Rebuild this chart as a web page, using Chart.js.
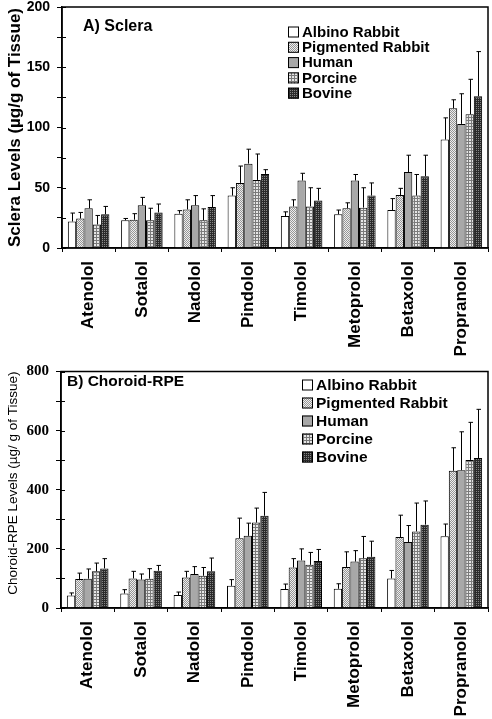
<!DOCTYPE html>
<html>
<head>
<meta charset="utf-8">
<script src="https://cdn.jsdelivr.net/npm/chart.js@4.4.1/dist/chart.umd.min.js"></script>
<style>
html, body { margin: 0; padding: 0; background: #fff; }
#wrap { position: relative; width: 492px; height: 719px; }
canvas { position: absolute; left: 0; }
#chartSclera { top: 0; }
#chartChoroid { top: 365px; }
</style>
</head>
<body>
<div id="wrap">
  <canvas id="chartSclera" width="492" height="365"></canvas>
  <canvas id="chartChoroid" width="492" height="354"></canvas>
</div>
<script>
// drugs and species
const drugs = ["Atenolol", "Sotalol", "Nadolol", "Pindolol", "Timolol", "Metoprolol", "Betaxolol", "Propranolol"];
const species = ["Albino Rabbit", "Pigmented Rabbit", "Human", "Porcine", "Bovine"];

// A) Sclera, mean (µg/g)
const scleraAlbino    = [22, 23, 28.5, 43.5, 26.5, 28, 31.5, 90];
const scleraPigmented = [24.5, 23.5, 32, 54, 34.5, 33, 44, 116];
const scleraHuman     = [33, 35.5, 35.5, 70, 56, 56, 63, 103];
const scleraPorcine   = [19.5, 23, 23, 56.5, 34.5, 33.5, 43.5, 111];
const scleraBovine    = [28, 29.5, 34, 61.5, 39.5, 43.5, 59.5, 126];
// A) Sclera, SD
const scleraAlbinoSD    = [7, 1.5, 2.5, 6.5, 3.5, 3.5, 9.5, 18];
const scleraPigmentedSD = [5, 5, 8, 14, 5.5, 4.5, 5.5, 7];
const scleraHumanSD     = [7, 6.5, 8, 12, 6, 5, 14, 25];
const scleraPorcineSD   = [7.5, 10, 9.5, 21.5, 15.5, 16.5, 17.5, 29];
const scleraBovineSD    = [6.5, 7, 9.5, 3.5, 10, 10.5, 17.5, 37];

// B) Choroid-RPE, mean (µg/g)
const choroidAlbino    = [42, 49, 44, 75, 64, 65, 100, 243];
const choroidPigmented = [98, 100, 103, 236, 137, 139, 240, 464];
const choroidHuman     = [99, 96, 115, 244, 161, 157, 223, 466];
const choroidPorcine   = [124, 99, 109, 289, 146, 168, 259, 501];
const choroidBovine    = [134, 126, 124, 312, 159, 173, 282, 507];
// B) Choroid-RPE, SD
const choroidAlbinoSD    = [9, 13, 10, 21, 17, 17, 27, 41];
const choroidPigmentedSD = [20, 24, 21, 68, 30, 51, 74, 78];
const choroidHumanSD     = [33, 19, 25, 43, 39, 37, 56, 130];
const choroidPorcineSD   = [28, 34, 28, 49, 42, 74, 96, 127];
const choroidBovineSD    = [33, 18, 45, 79, 39, 53, 80, 165];

Chart.defaults.font.family = "'Liberation Sans', Arial, sans-serif";
Chart.defaults.color = '#000';

function makePattern(size, paint) {
    let c = document.createElement('canvas');
    c.width = size;
    c.height = size;
    let g = c.getContext('2d');
    paint(g, size);
    return g.createPattern(c, 'repeat');
}

// bar fills: white, fine stipple, plain grey, grid, dark hatch
const fills = [
    '#ffffff',
    makePattern(2, function (g) {
        g.fillStyle = '#eeeeee'; g.fillRect(0, 0, 2, 2);
        g.fillStyle = '#959595'; g.fillRect(0, 0, 1, 1); g.fillRect(1, 1, 1, 1);
    }),
    '#a8a8a8',
    makePattern(3, function (g) {
        g.fillStyle = '#e6e6e6'; g.fillRect(0, 0, 3, 3);
        g.fillStyle = '#7a7a7a'; g.fillRect(0, 0, 3, 1); g.fillRect(0, 0, 1, 3);
    }),
    makePattern(2, function (g) {
        g.fillStyle = '#2a2a2a'; g.fillRect(0, 0, 2, 2);
        g.fillStyle = '#858585'; g.fillRect(0, 0, 1, 1);
    })
];

// upward error bars with a small cap
const errorBars = {
    id: 'errorBars',
    afterDatasetsDraw: function (chart) {
        let ctx = chart.ctx;
        let yScale = chart.scales.y;
        ctx.save();
        ctx.strokeStyle = '#000';
        ctx.lineWidth = 1;
        chart.data.datasets.forEach(function (ds, i) {
            let meta = chart.getDatasetMeta(i);
            meta.data.forEach(function (bar, j) {
                let top = yScale.getPixelForValue(ds.data[j] + ds.errors[j]);
                let x = Math.round(bar.x) + 0.5;
                ctx.beginPath();
                ctx.moveTo(x, bar.y);
                ctx.lineTo(x, top);
                ctx.moveTo(x - 2, top);
                ctx.lineTo(x + 2.5, top);
                ctx.stroke();
            });
        });
        ctx.restore();
    }
};

// frame, inner ticks, panel title, legend
const panelDecor = {
    id: 'panelDecor',
    afterDraw: function (chart, args, opts) {
        let ctx = chart.ctx;
        let area = chart.chartArea;
        let yScale = chart.scales.y;
        ctx.save();
        ctx.strokeStyle = '#000';
        ctx.lineWidth = 1.5;
        ctx.strokeRect(area.left, area.top, area.right - area.left, area.bottom - area.top);

        ctx.lineWidth = 1;
        yScale.ticks.forEach(function (t) {
            let py = Math.round(yScale.getPixelForValue(t.value)) + 0.5;
            ctx.beginPath();
            ctx.moveTo(area.left, py);
            ctx.lineTo(area.left + 4, py);
            ctx.stroke();
        });

        ctx.fillStyle = '#000';
        ctx.textBaseline = 'middle';
        ctx.textAlign = 'left';
        ctx.font = opts.titleFont;
        ctx.fillText(opts.title, opts.titleX, opts.titleY);

        ctx.font = opts.legendFont;
        chart.data.datasets.forEach(function (ds, i) {
            let cy = opts.legendY + i * opts.legendStep;
            ctx.fillStyle = ds.backgroundColor;
            ctx.fillRect(opts.legendX, cy - 5.5, 11, 11);
            ctx.strokeRect(opts.legendX + 0.5, cy - 5, 10, 10);
            ctx.fillStyle = '#000';
            ctx.fillText(ds.label, opts.legendX + 14, cy + 0.5);
        });
        ctx.restore();
    }
};

function drawPanel(canvasId, means, errors, cfg) {
    let datasets = species.map(function (name, k) {
        return {
            label: name,
            data: means[k],
            errors: errors[k],
            backgroundColor: fills[k],
            borderColor: '#000',
            borderWidth: 1,
            categoryPercentage: 0.78,
            barPercentage: 1.0
        };
    });

    let ctx = document.getElementById(canvasId).getContext('2d');
    return new Chart(ctx, {
        type: 'bar',
        data: { labels: drugs, datasets: datasets },
        options: {
            responsive: false,
            animation: false,
            layout: { padding: { top: cfg.padTop, right: 4, left: 0, bottom: 0 } },
            plugins: {
                legend: { display: false },
                tooltip: { enabled: false },
                panelDecor: cfg.decor
            },
            scales: {
                x: {
                    grid: { offset: true, drawOnChartArea: false, tickLength: 4, color: '#000', lineWidth: 1 },
                    border: { color: '#000', width: 1.5 },
                    ticks: {
                        autoSkip: false,
                        minRotation: 90,
                        maxRotation: 90,
                        padding: 9,
                        color: '#000',
                        font: { size: 17, weight: 'bold' }
                    },
                    afterFit: function (scale) { scale.height = cfg.xHeight; }
                },
                y: {
                    min: 0,
                    max: cfg.yMax,
                    grid: { drawOnChartArea: false, tickLength: 5, color: '#000', lineWidth: 1 },
                    border: { color: '#000', width: 1.5 },
                    ticks: {
                        stepSize: cfg.yMax / 8,
                        padding: 7,
                        color: '#000',
                        font: cfg.tickFont,
                        callback: function (v) { return v % (cfg.yMax / 4) === 0 ? v : ''; }
                    },
                    title: {
                        display: true,
                        text: cfg.yTitle,
                        align: cfg.yTitleAlign,
                        color: '#000',
                        font: cfg.yTitleFont,
                        padding: { top: 5, bottom: 0 }
                    },
                    afterFit: function (scale) {
                        scale.width = cfg.yWidth;
                        scale.paddingTop = 0;
                        scale.paddingBottom = 0;
                    }
                }
            }
        },
        plugins: [errorBars, panelDecor]
    });
}

drawPanel('chartSclera',
    [scleraAlbino, scleraPigmented, scleraHuman, scleraPorcine, scleraBovine],
    [scleraAlbinoSD, scleraPigmentedSD, scleraHumanSD, scleraPorcineSD, scleraBovineSD],
    {
        yMax: 200,
        yWidth: 62,
        xHeight: 117,
        padTop: 7,
        tickFont: { size: 14, weight: 'bold', lineHeight: 1 },
        yTitle: 'Sclera Levels (µg/g of Tissue)',
        yTitleAlign: 'center',
        yTitleFont: { size: 17, weight: 'bold' },
        decor: {
            title: 'A) Sclera',
            titleFont: "bold 16px 'Liberation Sans', Arial, sans-serif",
            titleX: 83,
            titleY: 27,
            legendFont: "bold 15px 'Liberation Sans', Arial, sans-serif",
            legendX: 288,
            legendY: 32,
            legendStep: 15.3
        }
    });

drawPanel('chartChoroid',
    [choroidAlbino, choroidPigmented, choroidHuman, choroidPorcine, choroidBovine],
    [choroidAlbinoSD, choroidPigmentedSD, choroidHumanSD, choroidPorcineSD, choroidBovineSD],
    {
        yMax: 800,
        yWidth: 61,
        xHeight: 111,
        padTop: 6.5,
        tickFont: { family: "'Liberation Serif', 'Times New Roman', serif", size: 15, weight: 'bold', lineHeight: 1 },
        yTitle: 'Choroid-RPE Levels (µg/ g of Tissue)',
        yTitleAlign: 'end',
        yTitleFont: { size: 13.5, weight: 'normal' },
        decor: {
            title: 'B) Choroid-RPE',
            titleFont: "bold 15.5px 'Liberation Sans', Arial, sans-serif",
            titleX: 67,
            titleY: 17,
            legendFont: "bold 15.5px 'Liberation Sans', Arial, sans-serif",
            legendX: 302,
            legendY: 20,
            legendStep: 18
        }
    });
</script>
</body>
</html>
